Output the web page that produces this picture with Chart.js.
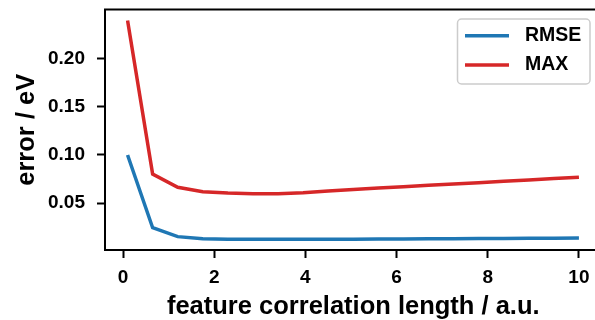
<!DOCTYPE html>
<html>
<head>
<meta charset="utf-8">
<script src="https://cdn.jsdelivr.net/npm/chart.js@4.4.1/dist/chart.umd.min.js"></script>
<style>
html, body { margin: 0; padding: 0; background: #fff; overflow: hidden; }
canvas { display: block; }
</style>
</head>
<body>
<canvas id="grafico" width="602" height="320"></canvas>
<script>
// longitud de correlación (a.u.)
const longitudes = [0.1, 0.65, 1.2, 1.75, 2.3, 2.85, 3.4, 3.95, 4.5, 5.05, 5.6, 6.15, 6.7, 7.25, 7.8, 8.35, 8.9, 9.45, 10];
const rmse = [0.100, 0.0243, 0.0150, 0.0128, 0.0124, 0.0122, 0.0122, 0.0122, 0.0123, 0.0124, 0.0125, 0.0126, 0.0127, 0.0128, 0.0130, 0.0131, 0.0133, 0.0134, 0.0136];
const maxError = [0.240, 0.0802, 0.0664, 0.0618, 0.0603, 0.0597, 0.0597, 0.0606, 0.0624, 0.0641, 0.0656, 0.0670, 0.0684, 0.0698, 0.0712, 0.0726, 0.0740, 0.0754, 0.0768];
const ticksX = [0, 2, 4, 6, 8, 10];
const ticksY = [0.05, 0.10, 0.15, 0.20];

Chart.defaults.font.family = "'Liberation Sans', Arial, sans-serif";
Chart.defaults.font.weight = 'bold';
Chart.defaults.color = '#000';

// marco superior/derecho y leyenda dentro del área
const marcoYLeyenda = {
    id: 'marcoYLeyenda',
    afterDraw(chart) {
        const ctx = chart.ctx;
        const area = chart.chartArea;
        ctx.save();
        ctx.strokeStyle = '#000';
        ctx.lineWidth = 2;
        ctx.beginPath();
        ctx.moveTo(area.left - 1, area.top);
        ctx.lineTo(area.right, area.top);
        ctx.lineTo(area.right, area.bottom);
        ctx.stroke();

        const w = 132.5, h = 65;
        const x0 = area.right - 144, y0 = area.top + 9.5;
        ctx.beginPath();
        ctx.roundRect(x0, y0, w, h, 4);
        ctx.fillStyle = 'rgba(255,255,255,0.8)';
        ctx.fill();
        ctx.strokeStyle = '#cccccc';
        ctx.lineWidth = 1.5;
        ctx.stroke();

        ctx.font = "bold 19.5px 'Liberation Sans', Arial, sans-serif";
        ctx.textBaseline = 'middle';
        ctx.textAlign = 'left';
        chart.data.datasets.forEach((ds, i) => {
            const y = y0 + 16.7 + i * 29.3;
            ctx.strokeStyle = ds.borderColor;
            ctx.lineWidth = 3.5;
            ctx.beginPath();
            ctx.moveTo(x0 + 7.5, y);
            ctx.lineTo(x0 + 51.5, y);
            ctx.stroke();
            ctx.fillStyle = '#000';
            ctx.fillText(ds.label, x0 + 67.5, y);
        });
        ctx.restore();
    }
};

const ctx = document.getElementById('grafico').getContext('2d');

new Chart(ctx, {
    type: 'line',
    data: {
        labels: longitudes,
        datasets: [{
            label: 'RMSE',
            data: longitudes.map((x, i) => ({ x: x, y: rmse[i] })),
            borderColor: '#1f77b4',
            borderWidth: 3.5,
            pointRadius: 0,
            tension: 0,
            fill: false
        }, {
            label: 'MAX',
            data: longitudes.map((x, i) => ({ x: x, y: maxError[i] })),
            borderColor: '#d62728',
            borderWidth: 3.5,
            pointRadius: 0,
            tension: 0,
            fill: false
        }]
    },
    options: {
        responsive: false,
        animation: false,
        devicePixelRatio: 1,
        layout: { padding: { top: 9.5, right: 0.5, left: 0, bottom: 0 } },
        plugins: {
            legend: { display: false },
            tooltip: { enabled: false }
        },
        scales: {
            x: {
                type: 'linear',
                min: -0.395,
                max: 10.495,
                afterFit: (scale) => {
                    scale.height = 70;
                    scale.paddingLeft = 0;
                    scale.paddingRight = 0;
                },
                afterBuildTicks: (scale) => { scale.ticks = ticksX.map(v => ({ value: v })); },
                grid: { drawOnChartArea: false, drawTicks: true, tickLength: 8, tickColor: '#000', tickWidth: 2 },
                border: { display: true, color: '#000', width: 2 },
                ticks: {
                    autoSkip: false,
                    maxRotation: 0,
                    padding: 8.5,
                    font: { size: 19, weight: 'bold' },
                    callback: (v) => String(v)
                },
                title: {
                    display: true,
                    text: 'feature correlation length / a.u.',
                    font: { size: 25.5, weight: 'bold', lineHeight: 1.0 },
                    padding: 0
                }
            },
            y: {
                type: 'linear',
                min: 0.0011,
                max: 0.2514,
                afterFit: (scale) => {
                    scale.width = 105;
                    scale.paddingTop = 0;
                    scale.paddingBottom = 0;
                },
                afterBuildTicks: (scale) => { scale.ticks = ticksY.map(v => ({ value: v })); },
                grid: { drawOnChartArea: false, drawTicks: true, tickLength: 8, tickColor: '#000', tickWidth: 2 },
                border: { display: true, color: '#000', width: 2 },
                ticks: {
                    autoSkip: false,
                    padding: 12,
                    font: { size: 19, weight: 'bold' },
                    callback: (v) => v.toFixed(2)
                },
                title: {
                    display: true,
                    text: 'error / eV',
                    font: { size: 25.5, weight: 'bold', lineHeight: 1.0 },
                    padding: { top: 13.8, bottom: 0 }
                }
            }
        }
    },
    plugins: [marcoYLeyenda]
});
</script>
</body>
</html>
